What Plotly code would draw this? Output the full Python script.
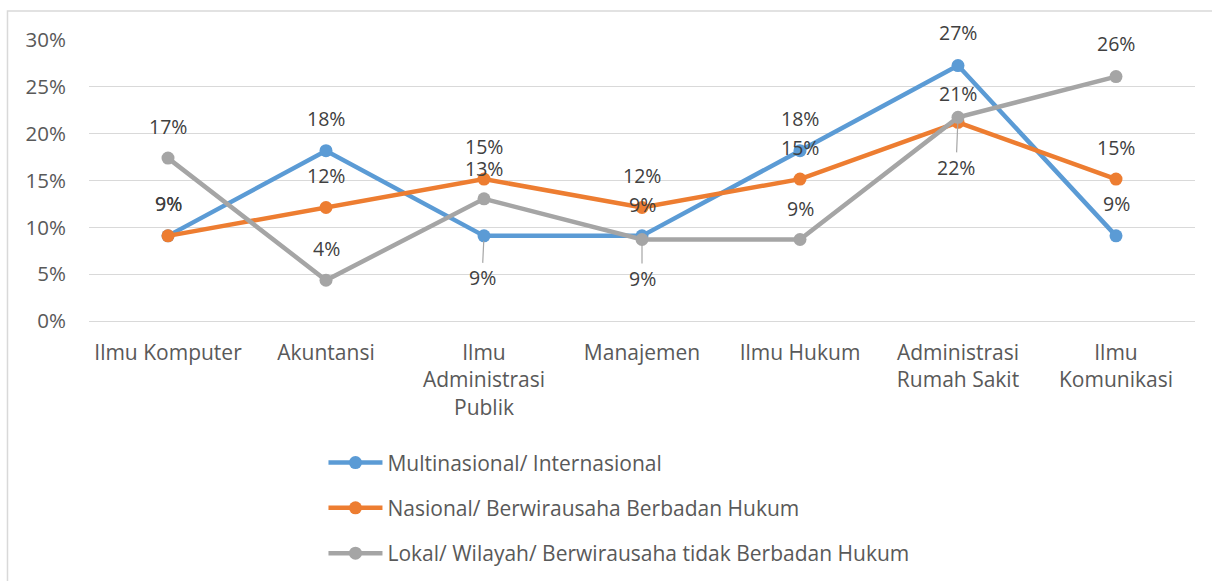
import plotly.graph_objects as go

categories = ["Ilmu Komputer", "Akuntansi", "Ilmu Administrasi Publik", "Manajemen",
              "Ilmu Hukum", "Administrasi Rumah Sakit", "Ilmu Komunikasi"]
tick_labels = ["Ilmu Komputer", "Akuntansi", "Ilmu<br>Administrasi<br>Publik", "Manajemen",
               "Ilmu Hukum", "Administrasi<br>Rumah Sakit", "Ilmu<br>Komunikasi"]

series_names = ["Multinasional/ Internasional",
                "Nasional/ Berwirausaha Berbadan Hukum",
                "Lokal/ Wilayah/ Berwirausaha tidak Berbadan Hukum"]
multinasional = [0.0909, 0.1818, 0.0909, 0.0909, 0.1818, 0.2727, 0.0909]
nasional = [0.0909, 0.1212, 0.1515, 0.1212, 0.1515, 0.2121, 0.1515]
lokal = [0.1739, 0.0435, 0.1304, 0.0870, 0.0870, 0.2174, 0.2609]
y_ticks = [0, 0.05, 0.10, 0.15, 0.20, 0.25, 0.30]

colors = ["#5B9BD5", "#ED7D31", "#A5A5A5"]
all_series = [multinasional, nasional, lokal]

FONT = "'Open Sans', Lato, sans-serif"

fig = go.Figure()
for i, (name, vals) in enumerate(zip(series_names, all_series)):
    fig.add_trace(go.Scatter(
        x=list(range(len(categories))), y=vals, name=name, mode="lines+markers",
        line=dict(color=colors[i], width=4.5),
        marker=dict(color=colors[i], size=13),
        legendgroup=f"g{i}",
        hoverinfo="skip",
    ))

# label placement: (series index, category index) -> yshift px, or leader line offsets
label_pos = {
    (0, 0): -32, (1, 0): -32, (2, 0): -32,
    (0, 1): -32, (1, 1): -32, (2, 1): -32,
    (0, 2): ("leader", -2, 42), (1, 2): -33, (2, 2): -30,
    (0, 3): -31, (1, 3): -32, (2, 3): ("leader", 0, 39),
    (0, 4): -32, (1, 4): -32, (2, 4): -31,
    (0, 5): -33, (1, 5): -29, (2, 5): ("leader", -2, 50),
    (0, 6): -32, (1, 6): -32, (2, 6): -33,
}

annotations = []
for i, vals in enumerate(all_series):
    for j, v in enumerate(vals):
        pos = label_pos[(i, j)]
        txt = f"{round(v * 100):d}%"
        if isinstance(pos, tuple):
            _, dx, dy = pos
            annotations.append(dict(
                x=j, y=v, xref="x", yref="y", text=txt, showarrow=True,
                ax=dx, ay=dy, arrowhead=0, arrowwidth=1.2, arrowcolor="#A6A6A6",
                standoff=5, startstandoff=0,
                font=dict(family=FONT, size=19.5, color="#404040"),
            ))
        else:
            annotations.append(dict(
                x=j, y=v, xref="x", yref="y", text=txt, showarrow=False,
                yshift=-pos, font=dict(family=FONT, size=19.5, color="#404040"),
            ))

fig.update_layout(
    width=1212, height=581,
    margin=dict(l=89, r=17, t=40, b=260, autoexpand=False),
    paper_bgcolor="white", plot_bgcolor="white",
    font=dict(family=FONT, size=20, color="#595959"),
    annotations=annotations,
    showlegend=True,
    legend=dict(
        orientation="v", xref="paper", yref="paper",
        x=0.212, y=-0.432, xanchor="left", yanchor="top",
        font=dict(family=FONT, size=21, color="#595959"),
        tracegroupgap=15, itemwidth=54,
        bgcolor="rgba(0,0,0,0)",
    ),
    shapes=[dict(type="rect", xref="paper", yref="paper",
                 x0=-0.0737, x1=1.03, y0=-0.95, y1=1.103,
                 line=dict(color="#D9D9D9", width=1.5), layer="below")],
)
fig.update_xaxes(
    range=[-0.5, len(categories) - 0.5],
    tickmode="array", tickvals=list(range(len(categories))), ticktext=tick_labels,
    tickangle=0,
    showgrid=False, zeroline=False, showline=False,
    ticks="", ticklabelstandoff=17,
    tickfont=dict(family=FONT, size=21, color="#595959"),
)
fig.update_yaxes(
    range=[0, 0.30], tickmode="array", tickvals=y_ticks,
    ticktext=[f"{round(t * 100):d}%" for t in y_ticks],
    showgrid=True, gridcolor="#D9D9D9", gridwidth=1.3,
    zeroline=True, zerolinecolor="#D9D9D9", zerolinewidth=1.3,
    showline=False, ticks="", ticklabelstandoff=22,
    tickfont=dict(family=FONT, size=20.5, color="#595959"),
)

fig.write_html("out.html", config={"displayModeBar": False},
               post_script="document.body.style.margin='0px';")
